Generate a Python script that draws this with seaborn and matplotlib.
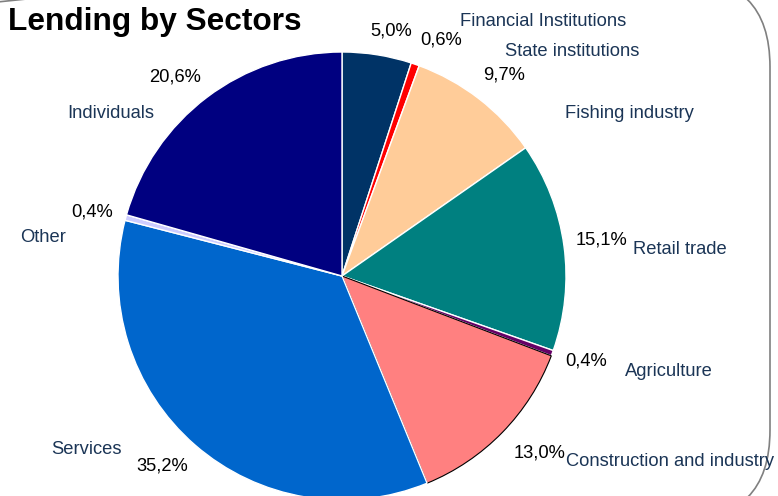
import matplotlib
matplotlib.use("Agg")
import matplotlib.pyplot as plt
from matplotlib.patches import FancyBboxPatch
import seaborn as sns

# Loan portfolio split by sector, in percent (clockwise from 12 o'clock)
sectors = [
    "Financial Institutions",
    "State institutions",
    "Fishing industry",
    "Retail trade",
    "Agriculture",
    "Construction and industry",
    "Services",
    "Other",
    "Individuals",
]
shares = [5.0, 0.6, 9.7, 15.1, 0.4, 13.0, 35.2, 0.4, 20.6]
colors = ["#003366", "#FF0000", "#FFCC99", "#008080", "#660066",
          "#FF8080", "#0066CC", "#CCCCFF", "#000080"]

# Label placement in pixel coordinates (x, y from top-left)
name_pos = [(543, 21), (572, 52), (629, 113), (680, 249), (669, 371),
            (670, 461), (86, 450), (43, 238), (111, 113)]
pct_pos = [(391, 31), (441, 40), (504, 75), (602, 240), (586, 361),
           (540, 453), (162, 466), (92, 212), (175, 77)]

W, H = 778, 496
sns.set_theme(style="white")
plt.rcParams["font.family"] = ["Liberation Sans", "DejaVu Sans"]

fig = plt.figure(figsize=(W / 100, H / 100), dpi=100)
ax = fig.add_axes([0, 0, 1, 1])

cx, cy, r = 342, 276, 224
wedges, _ = ax.pie(
    shares,
    colors=colors,
    startangle=90,
    counterclock=False,
    center=(cx, H - cy),
    radius=r,
    wedgeprops=dict(edgecolor="white", linewidth=1.0),
    frame=True,
)
ax.set_xlim(0, W)
ax.set_ylim(0, H)
ax.set_aspect("equal")
ax.axis("off")
# outline on the construction wedge
wedges[5].set_edgecolor("black")
wedges[5].set_linewidth(0.8)

label_color = "#1B3556"
for name, (x, y) in zip(sectors, name_pos):
    ax.text(x, H - y, name, ha="center", va="center",
            fontsize=13.2, color=label_color)
for val, (x, y) in zip(shares, pct_pos):
    ax.text(x, H - y, f"{val:.1f}%".replace(".", ","), ha="center",
            va="center", fontsize=13.2, color="black")

# rounded frame on the right
frame = FancyBboxPatch((-200, H - 520), 970, 543,
                       boxstyle="round,pad=0,rounding_size=90",
                       facecolor="none", edgecolor="#808080", linewidth=1.2,
                       zorder=0)
ax.add_patch(frame)

ax.text(8, H - 22, "Lending by Sectors", ha="left", va="center",
        fontsize=22.8, fontweight="bold", color="black")

fig.savefig("out.png", dpi=100)
